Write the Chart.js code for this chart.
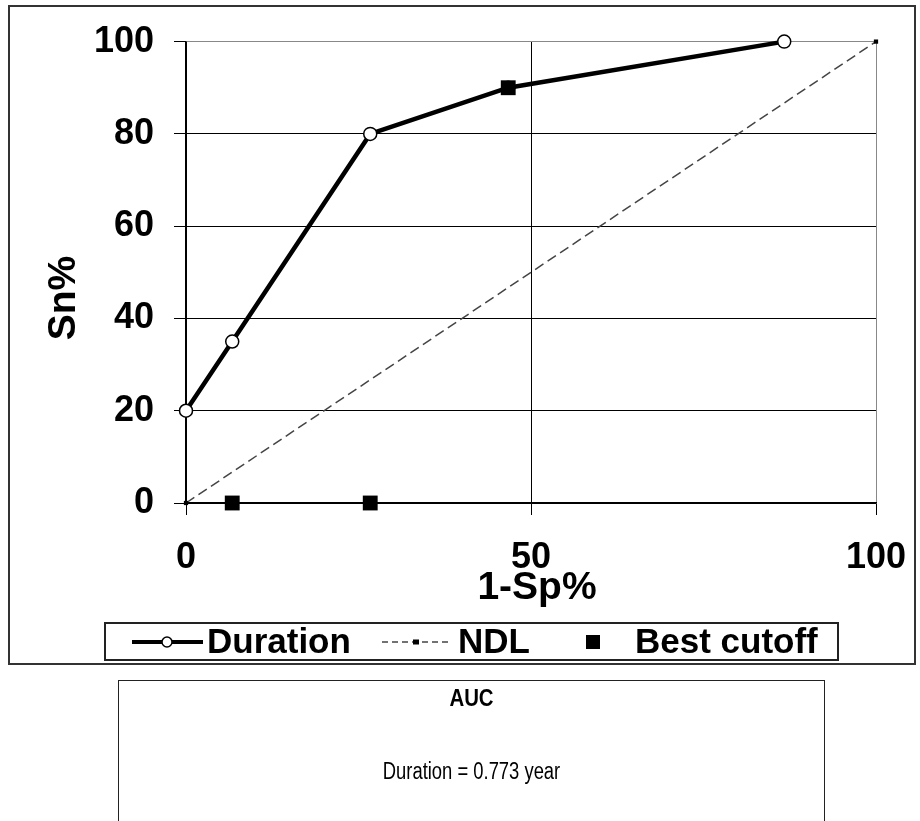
<!DOCTYPE html>
<html><head><meta charset="utf-8">
<script src="https://cdn.jsdelivr.net/npm/chart.js@4.4.1/dist/chart.umd.min.js"></script>
<style>
html,body{margin:0;padding:0;background:#fff;}
#wrap{position:relative;width:920px;height:821px;overflow:hidden;}
#c{position:absolute;left:0;top:0;}
#auc{position:absolute;left:118px;top:680px;width:707px;height:170px;border:1.5px solid #222;box-sizing:border-box;font-family:"Liberation Sans",Arial,sans-serif;text-align:center;color:#000;}
#auc .t1{position:absolute;left:0;right:0;top:3px;font-size:24px;line-height:28px;font-weight:bold;transform:scaleX(0.85);}
#auc .t2{position:absolute;left:0;right:0;top:76px;font-size:23px;line-height:28px;transform:scaleX(0.8);}
</style></head>
<body>
<div id="wrap">
<canvas id="c" width="920" height="821"></canvas>
<div id="auc"><div class="t1">AUC</div><div class="t2">Duration = 0.773 year</div></div>
</div>
<script>
// ---- data ----
const durationX = [0, 6.7, 26.7, 46.7, 86.7];   // 1-Sp%
const durationY = [20, 35, 80, 90, 100];         // Sn%
const ndlX = [0, 100];
const ndlY = [0, 100];
const bestX = [6.7, 26.7, 46.7];
const bestY = [0, 0, 90];
const xTicks = [0, 50, 100];
const yTicks = [0, 20, 40, 60, 80, 100];
const seriesNames = ['Duration', 'NDL', 'Best cutoff'];
const xTitle = '1-Sp%';
const yTitle = 'Sn%';

const FONT = "'Liberation Sans', Arial, sans-serif";
const toPts = (xs, ys) => xs.map((x, i) => ({x: x, y: ys[i]}));

const framePlugin = {
  id: 'frame',
  afterDraw(chart) {
    const ctx = chart.ctx;
    ctx.save();
    // outer chart border
    ctx.strokeStyle = '#333';
    ctx.lineWidth = 2;
    ctx.strokeRect(9, 6, 906, 658);
    // axis titles
    ctx.fillStyle = '#000';
    ctx.font = 'bold 39px ' + FONT;
    ctx.textAlign = 'center';
    ctx.textBaseline = 'middle';
    ctx.fillText(xTitle, 537, 588);
    ctx.translate(64, 298);
    ctx.rotate(-Math.PI / 2);
    ctx.fillText(yTitle, 0, 0);
    ctx.restore();

    // legend
    ctx.save();
    const LY = 642;
    ctx.strokeStyle = '#222';
    ctx.lineWidth = 2;
    ctx.strokeRect(105, 623, 733, 37);
    // Duration
    ctx.strokeStyle = '#000';
    ctx.lineWidth = 4;
    ctx.beginPath(); ctx.moveTo(132, LY); ctx.lineTo(203, LY); ctx.stroke();
    ctx.fillStyle = '#fff'; ctx.lineWidth = 1.5;
    ctx.beginPath(); ctx.arc(167, LY, 5, 0, Math.PI * 2); ctx.fill(); ctx.stroke();
    // NDL
    ctx.strokeStyle = '#444'; ctx.lineWidth = 1.5; ctx.setLineDash([6, 4]);
    ctx.beginPath(); ctx.moveTo(382, LY); ctx.lineTo(450, LY); ctx.stroke();
    ctx.setLineDash([]);
    ctx.fillStyle = '#000';
    ctx.fillRect(413, LY - 2.5, 6, 5);
    // Best cutoff
    ctx.fillRect(586, LY - 7, 14, 14);
    ctx.font = 'bold 35px ' + FONT;
    ctx.textAlign = 'left';
    ctx.textBaseline = 'middle';
    ctx.fillText(seriesNames[0], 207, LY + 1);
    ctx.fillText(seriesNames[1], 458, LY + 1);
    ctx.fillText(seriesNames[2], 635, LY + 1);
    ctx.restore();
  }
};

new Chart(document.getElementById('c').getContext('2d'), {
  type: 'scatter',
  data: {
    datasets: [
      {
        label: seriesNames[2], data: toPts(bestX, bestY), order: 0, clip: false,
        showLine: false, pointStyle: 'rect', pointRadius: 10.5, pointHoverRadius: 10.5,
        pointBackgroundColor: '#000', pointBorderColor: '#000', pointBorderWidth: 0
      },
      {
        label: seriesNames[0], data: toPts(durationX, durationY), order: 1, clip: false,
        showLine: true, borderColor: '#000', borderWidth: 4.5, tension: 0,
        pointStyle: 'circle', pointRadius: 6.5, pointHoverRadius: 6.5,
        pointBackgroundColor: '#fff', pointBorderColor: '#000', pointBorderWidth: 1.5
      },
      {
        label: seriesNames[1], data: toPts(ndlX, ndlY), order: 2, clip: false,
        showLine: true, borderColor: '#444', borderWidth: 1.5, borderDash: [10, 5], tension: 0,
        pointStyle: 'rect', pointRadius: 3, pointHoverRadius: 3,
        pointBackgroundColor: '#000', pointBorderColor: '#000', pointBorderWidth: 0
      }
    ]
  },
  options: {
    responsive: false,
    animation: false,
    devicePixelRatio: 1,
    events: [],
    layout: {padding: {left: 0, right: 44, top: 40, bottom: 821 - 503 - 110}},
    plugins: {legend: {display: false}, tooltip: {enabled: false}},
    scales: {
      x: {
        type: 'linear', min: 0, max: 100,
        afterBuildTicks: s => { s.ticks = xTicks.map(v => ({value: v})); },
        afterFit: s => { s.height = 110; s.paddingRight = 30; s.paddingLeft = 10; },
        ticks: {font: {family: FONT, size: 36, weight: 'bold', lineHeight: 1.2}, color: '#000', padding: 21, maxRotation: 0, autoSkip: false},
        grid: {color: c => (c.tick && c.tick.value === 100) ? '#888' : '#000', lineWidth: 1, tickLength: 12, tickColor: '#000'},
        border: {color: '#000', width: 1.5},
        title: {display: false}
      },
      y: {
        type: 'linear', min: 0, max: 100,
        afterBuildTicks: s => { s.ticks = yTicks.map(v => ({value: v})); },
        afterFit: s => { s.width = 186; },
        ticks: {font: {family: FONT, size: 36, weight: 'bold', lineHeight: 1.2}, color: '#000', padding: 20, autoSkip: false},
        grid: {color: c => (c.tick && c.tick.value === 100) ? '#888' : '#000', lineWidth: 1, tickLength: 12, tickColor: '#000'},
        border: {color: '#000', width: 1.5},
        title: {display: false}
      }
    }
  },
  plugins: [framePlugin]
});
</script>
</body></html>
